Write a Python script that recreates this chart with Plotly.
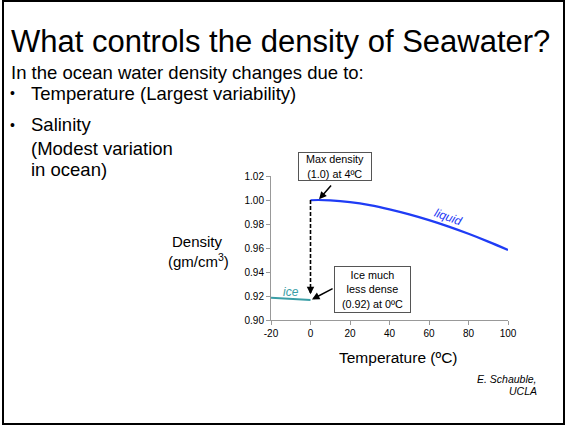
import plotly.graph_objects as go

# ---- data ----
liquid_temp = [0, 4, 10, 20, 30, 40, 50, 60, 70, 80, 90, 100]
liquid_density = [0.9998, 1.0000, 0.9997, 0.9982, 0.9957, 0.9922, 0.9880,
                  0.9832, 0.9778, 0.9718, 0.9653, 0.9584]
ice_temp = [-20, 0]
ice_density = [0.9186, 0.9167]
drop_temp = [0, 0]
drop_density = [1.0, 0.9225]

x_ticks = [-20, 0, 20, 40, 60, 80, 100]
y_ticks = [0.90, 0.92, 0.94, 0.96, 0.98, 1.00, 1.02]

title_text = "What controls the density of Seawater?"
intro_text = "In the ocean water density changes due to:"
bullet1 = "Temperature (Largest variability)"
bullet2_lines = ["Salinity", "(Modest variation", "in ocean)"]

FONT = "Arial, Liberation Sans, sans-serif"
BLUE = "#1f3cf5"
TEAL = "#3a9ea6"

W, H = 565, 426
L, R, T, B = 271, 57, 176, 106
PW, PH = W - L - R, H - T - B


def px(x):
    return (x - L) / PW


def py(y):
    return (H - B - y) / PH


fig = go.Figure()
fig.add_trace(go.Scatter(x=liquid_temp, y=liquid_density, mode="lines",
                         line=dict(color=BLUE, width=2.2, shape="spline"),
                         showlegend=False, hoverinfo="skip"))
fig.add_trace(go.Scatter(x=ice_temp, y=ice_density, mode="lines",
                         line=dict(color=TEAL, width=2),
                         showlegend=False, hoverinfo="skip"))
fig.add_trace(go.Scatter(x=drop_temp, y=drop_density, mode="lines",
                         line=dict(color="black", width=1.6, dash="4px,2px"),
                         showlegend=False, hoverinfo="skip"))

ann = []


def text(x, y, s, size, xanchor="left", color="black", italic=False, angle=0):
    ann.append(dict(xref="paper", yref="paper", x=px(x), y=py(y), text=s,
                    showarrow=False, xanchor=xanchor, yanchor="middle",
                    textangle=angle,
                    font=dict(family=FONT, size=size, color=color,
                              style="italic" if italic else "normal")))


text(9, 41, title_text, 31)
text(9, 72.5, intro_text, 18.5)
text(8, 93, "•", 14)
text(29, 93, bullet1, 18.5)
text(8, 124.5, "•", 14)
text(29, 124.5, bullet2_lines[0], 18.5)
text(29, 148, bullet2_lines[1], 18.5)
text(29, 169.5, bullet2_lines[2], 18.5)

text(197, 241, "Density", 15, xanchor="center")
text(198, 260, "(gm/cm<sup>3</sup>)", 15, xanchor="center")
text(398, 357, "Temperature (ºC)", 15.5, xanchor="center")
text(539, 379, "E. Schauble,", 10.5, xanchor="right", italic=True)
text(539, 391, "UCLA", 10.5, xanchor="right", italic=True)
text(291, 292, "ice", 12, xanchor="center", color=TEAL, italic=True)
text(448, 217, "liquid", 12, xanchor="center", color=BLUE, italic=True, angle=20)

# boxed callouts
ann.append(dict(xref="paper", yref="paper", x=px(335), y=py(166.5),
                text="Max density<br>(1.0) at 4ºC", showarrow=False,
                xanchor="center", yanchor="middle", width=72, height=27,
                bordercolor="#555", borderwidth=1, borderpad=0, bgcolor="white",
                font=dict(family=FONT, size=10.8, color="black")))
ann.append(dict(xref="paper", yref="paper", x=px(372.5), y=py(289.5),
                text="Ice much<br>less dense<br>(0.92) at 0ºC", showarrow=False,
                xanchor="center", yanchor="middle", width=75, height=45,
                bordercolor="#555", borderwidth=1, borderpad=0, bgcolor="white",
                font=dict(family=FONT, size=10.8, color="black")))

# arrows
ann.append(dict(x=4, y=1.0, xref="x", yref="y", text="", showarrow=True,
                arrowhead=2, arrowsize=1, arrowwidth=1.5, arrowcolor="black",
                ax=14, ay=-16, standoff=1))
ann.append(dict(x=0.3, y=0.9168, xref="x", yref="y", text="", showarrow=True,
                arrowhead=2, arrowsize=1, arrowwidth=1.5, arrowcolor="black",
                ax=23, ay=-12, standoff=1))
ann.append(dict(x=0, y=0.9215, xref="x", yref="y", text="", showarrow=True,
                arrowhead=2, arrowsize=1, arrowwidth=1.5, arrowcolor="black",
                ax=0, ay=-8, standoff=0))

fig.update_layout(
    width=W, height=H,
    margin=dict(l=L, r=R, t=T, b=B),
    paper_bgcolor="white", plot_bgcolor="white",
    font=dict(family=FONT, color="black"),
    annotations=ann,
    shapes=[dict(type="rect", xref="paper", yref="paper",
                 x0=px(3), x1=px(564), y0=py(424), y1=py(1),
                 line=dict(color="black", width=2), layer="below")],
)
fig.update_xaxes(range=[-20, 100], tickvals=x_ticks, ticktext=[str(v) for v in x_ticks],
                 showline=True, linecolor="#999", linewidth=1,
                 ticks="outside", ticklen=4, tickcolor="#999",
                 showgrid=False, zeroline=False,
                 tickfont=dict(family=FONT, size=10, color="black"))
fig.update_yaxes(range=[0.90, 1.02], tickvals=y_ticks,
                 ticktext=[f"{v:.2f}" for v in y_ticks],
                 showline=True, linecolor="#999", linewidth=1,
                 ticks="outside", ticklen=4, tickcolor="#999",
                 showgrid=False, zeroline=False,
                 tickfont=dict(family=FONT, size=10, color="black"))

fig.write_html("out.html",
               config={"displayModeBar": False},
               post_script="document.body.style.margin='0px';"
                           "document.body.style.overflow='hidden';")
